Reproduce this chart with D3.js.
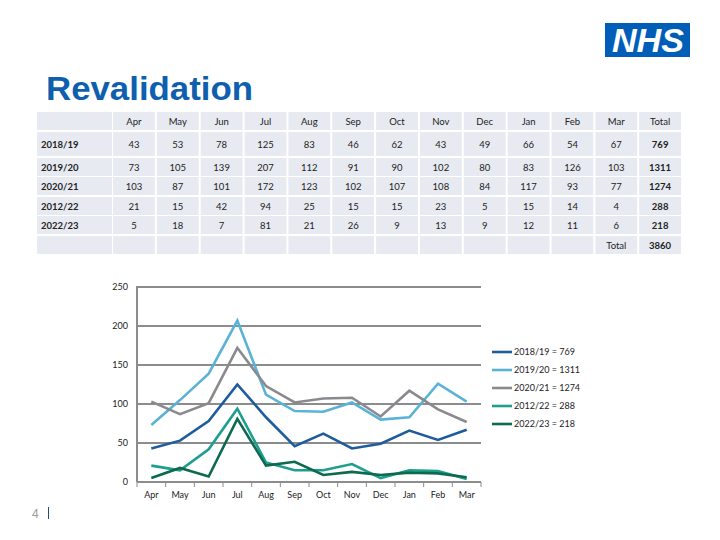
<!DOCTYPE html>
<html><head><meta charset="utf-8">
<script src="https://cdn.jsdelivr.net/npm/d3@7"></script>
<style>body{margin:0;background:#fff}</style>
</head><body><svg id="c" width="720" height="540"></svg>
<script>
const months = ["Apr","May","Jun","Jul","Aug","Sep","Oct","Nov","Dec","Jan","Feb","Mar"];
const years = ["2018/19","2019/20","2020/21","2012/22","2022/23"];
const s1819 = [43,53,78,125,83,46,62,43,49,66,54,67];
const s1920 = [73,105,139,207,112,91,90,102,80,83,126,103];
const s2021 = [103,87,101,172,123,102,107,108,84,117,93,77];
const s2122 = [21,15,42,94,25,15,15,23,5,15,14,4];
const s2223 = [5,18,7,81,21,26,9,13,9,12,11,6];
const totals = [769,1311,1274,288,218];
const grandTotal = 3860;
const yTicks = [0,50,100,150,200,250];
const colors = ["#1F5C9E","#5AB2D8","#8A8A8E","#1E9E8E","#0E6A4E"];
const series = [s1819,s1920,s2021,s2122,s2223];

const svg = d3.select("#c");
svg.append("rect").attr("width",720).attr("height",540).attr("fill","#fff");

// NHS logo
svg.append("rect").attr("x",605).attr("y",23).attr("width",85).attr("height",34).attr("fill","#005EB8");
svg.append("text").attr("x",648).attr("y",52).attr("text-anchor","middle")
  .attr("font-family","Liberation Sans, Arial, sans-serif").attr("font-weight","bold").attr("font-style","italic")
  .attr("font-size",34).attr("fill","#fff").attr("textLength",72).attr("lengthAdjust","spacingAndGlyphs").text("NHS");

// Title
svg.append("text").attr("x",46).attr("y",100)
  .attr("font-family","Liberation Sans, Arial, sans-serif").attr("font-weight","bold")
  .attr("font-size",33).attr("fill","#0F5FAF").attr("textLength",207).attr("lengthAdjust","spacingAndGlyphs").text("Revalidation");

// Table
const tFont = "Lato, 'Open Sans', sans-serif";
const rowTops = [112,132,158,177,197,216,236];
const rowHs = [18,24,18,18,18,18,18];
const col0x = 37, col0w = 75, colX0 = 113, colW = 43.85;
const cellFill = "#E8EAF1";
const nCols = months.length + 1;
const tbl = svg.append("g");
rowTops.forEach((top,r)=>{
  tbl.append("rect").attr("x",col0x).attr("y",top).attr("width",col0w).attr("height",rowHs[r]).attr("fill",cellFill);
  for(let c=0;c<nCols;c++){
    tbl.append("rect").attr("x",colX0+c*colW).attr("y",top).attr("width",colW-2).attr("height",rowHs[r]).attr("fill",cellFill);
  }
});
function cellText(r,c,txt,bold){
  const cx = colX0 + c*colW + (colW-2)/2;
  tbl.append("text").attr("x",cx).attr("y",rowTops[r]+rowHs[r]/2+3.5).attr("text-anchor","middle")
    .attr("font-family",tFont).attr("font-size",9.5).attr("font-weight",bold?"bold":"normal").attr("fill","#222").text(txt);
}
months.forEach((m,c)=>cellText(0,c,m,false));
cellText(0,months.length,"Total",false);
years.forEach((y,i)=>{
  const r=i+1;
  tbl.append("text").attr("x",41).attr("y",rowTops[r]+rowHs[r]/2+3.5)
    .attr("font-family",tFont).attr("font-size",9.5).attr("font-weight","bold").attr("fill","#222").text(y);
  series[i].forEach((v,c)=>cellText(r,c,v,false));
  cellText(r,months.length,totals[i],true);
});
cellText(6,months.length-1,"Total",false);
cellText(6,months.length,grandTotal,true);

// Chart
const x = d3.scaleBand().domain(months).range([137,481]);
const y = d3.scaleLinear().domain([0,250]).range([482,287]);
const g = svg.append("g");
const gridCol = "#8C8C8C";
yTicks.forEach(t=>{
  g.append("line").attr("x1",137).attr("x2",481).attr("y1",y(t)).attr("y2",y(t)).attr("stroke",gridCol).attr("stroke-width",2);
});
g.append("line").attr("x1",137).attr("x2",137).attr("y1",y(250)-1).attr("y2",y(0)).attr("stroke",gridCol).attr("stroke-width",2);
// boundary ticks
months.forEach(m=>{
  g.append("line").attr("x1",x(m)).attr("x2",x(m)).attr("y1",y(0)).attr("y2",y(0)+5).attr("stroke",gridCol).attr("stroke-width",1);
});
g.append("line").attr("x1",481).attr("x2",481).attr("y1",y(0)).attr("y2",y(0)+5).attr("stroke",gridCol).attr("stroke-width",1);

const yAxis = g.append("g").attr("transform","translate(137,0)")
  .call(d3.axisLeft(y).tickValues(yTicks).tickSize(0).tickPadding(9));
yAxis.select(".domain").remove();
yAxis.selectAll("text").attr("font-family",tFont).attr("font-size",9).attr("fill","#222");

const xAxis = g.append("g").attr("transform","translate(0,"+y(0)+")")
  .call(d3.axisBottom(x).tickSize(0).tickPadding(10));
xAxis.select(".domain").remove();
xAxis.selectAll("text").attr("font-family",tFont).attr("font-size",9).attr("fill","#222");

const line = d3.line().x((d,i)=>x(months[i])+x.bandwidth()/2).y(d=>y(d));
series.forEach((s,i)=>{
  g.append("path").attr("d",line(s)).attr("fill","none").attr("stroke",colors[i]).attr("stroke-width",2.6).attr("stroke-linejoin","miter");
});

// Legend
years.forEach((yr,i)=>{
  const ly = 352 + i*18;
  g.append("line").attr("x1",492).attr("x2",512).attr("y1",ly).attr("y2",ly).attr("stroke",colors[i]).attr("stroke-width",2.6);
  g.append("text").attr("x",514).attr("y",ly+3.2).attr("font-family",tFont).attr("font-size",9).attr("fill","#222")
    .text(yr+" = "+totals[i]);
});

// Footer
svg.append("text").attr("x",32).attr("y",518).attr("font-family","Liberation Sans, Arial, sans-serif").attr("font-size",12).attr("fill","#9a9a9a").text("4");
svg.append("line").attr("x1",48.5).attr("x2",48.5).attr("y1",507).attr("y2",519).attr("stroke","#1F4E79").attr("stroke-width",1);
</script></body></html>
